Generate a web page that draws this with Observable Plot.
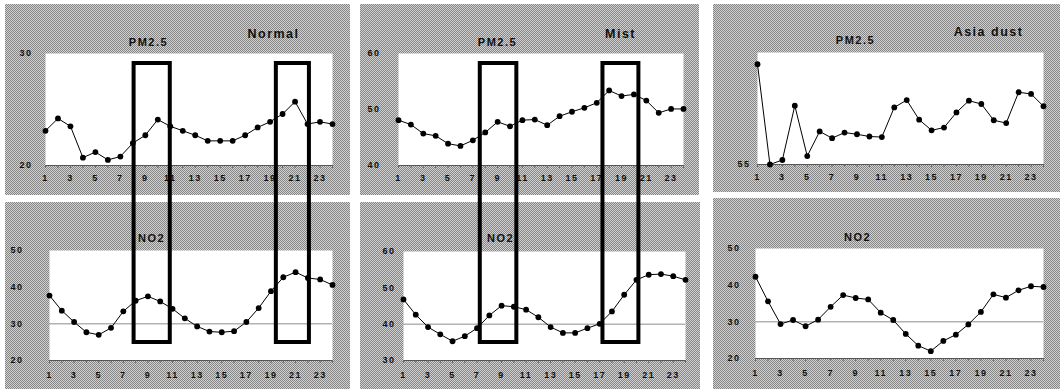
<!DOCTYPE html>
<html>
<head>
<meta charset="utf-8">
<script src="https://cdn.jsdelivr.net/npm/d3@7"></script>
<script src="https://cdn.jsdelivr.net/npm/@observablehq/plot@0.6"></script>
<style>
  body { margin: 0; background: #fff; }
  #root { position: relative; width: 1060px; height: 391px; overflow: hidden; background: #fff; font-family: "Liberation Sans", Arial, sans-serif; }
  .panel { position: absolute; background-color: #aaaaaa;
    background-image: repeating-conic-gradient(#858585 0 25%, #d2d2d2 0 50%);
    background-size: 2px 2px; }
  .panel svg, .overlay svg { display: block; }
  .overlay { position: absolute; pointer-events: none; }
</style>
</head>
<body>
<div id="root"></div>
<script>
// ---- data ----
const hours = [1,2,3,4,5,6,7,8,9,10,11,12,13,14,15,16,17,18,19,20,21,22,23,24];
const oddHours = [1,3,5,7,9,11,13,15,17,19,21,23];

const normalPM25 = [23.1,24.2,23.5,20.7,21.2,20.5,20.8,22.0,22.7,24.1,23.5,23.1,22.7,22.2,22.2,22.2,22.7,23.4,23.9,24.6,25.7,23.7,23.9,23.7];
const normalNO2  = [37.7,33.6,30.5,27.7,27.0,28.9,33.4,36.3,37.5,36.1,34.1,31.5,29.3,27.9,27.7,28.0,30.5,34.3,38.9,42.7,44.1,42.5,42.1,40.6];
const mistPM25   = [48.1,47.3,45.7,45.3,43.9,43.5,44.5,45.9,47.8,47.0,48.1,48.2,47.2,48.8,49.6,50.3,51.2,53.4,52.4,52.7,51.6,49.4,50.1,50.1];
const mistNO2    = [46.8,42.6,39.2,37.2,35.3,36.7,38.9,42.4,45.1,44.8,44.0,41.9,39.2,37.6,37.6,38.9,40.1,43.5,48.1,52.2,53.6,53.8,53.2,52.2];
const dustPM25   = [72.9,55.0,55.8,65.5,56.5,60.9,59.7,60.7,60.4,60.0,59.9,65.2,66.5,63.0,61.1,61.6,64.3,66.4,65.8,62.9,62.4,67.9,67.6,65.4];
const dustNO2    = [42.3,35.6,29.4,30.5,28.8,30.6,34.1,37.3,36.5,36.1,32.5,30.5,26.7,23.5,22.0,24.8,26.5,29.3,32.7,37.5,36.6,38.6,39.7,39.5];

const normalBoxes = [{start: 8.1, end: 11.0}, {start: 19.5, end: 22.15}];
const mistBoxes   = [{start: 7.6, end: 10.55}, {start: 17.5, end: 20.4}];

// ---- layout ----
const panels = [
  {values: normalPM25, yDomain: [20, 30], yTicks: [20, 30], ref: null, title: "PM2.5", tpos: [103, -11], event: "Normal", epos: [228, -20],
   box: {left: 5, top: 4, w: 345, h: 191}, m: [49, 18, 30, 40], yPad: 13, xPad: 9},
  {values: normalNO2, yDomain: [20, 50], yTicks: [20, 30, 40, 50], ref: 30, title: "NO2", tpos: [102, -12],
   box: {left: 5, top: 202, w: 345, h: 187}, m: [48, 18, 29, 44], yPad: 26, xPad: 11},
  {values: mistPM25, yDomain: [40, 60], yTicks: [40, 50, 60], ref: null, title: "PM2.5", tpos: [99, -11], event: "Mist", epos: [222, -20],
   box: {left: 360, top: 4, w: 339, h: 191}, m: [49, 16, 30, 38], yPad: 18, xPad: 9},
  {values: mistNO2, yDomain: [30, 60], yTicks: [30, 40, 50, 60], ref: 40, title: "NO2", tpos: [97, -13],
   box: {left: 360, top: 202, w: 340, h: 187}, m: [49, 15, 29, 43], yPad: 8, xPad: 11},
  {values: dustPM25, yDomain: [55, 75], yTicks: [55], ref: null, title: "PM2.5", tpos: [98, -12], event: "Asia dust", epos: [231, -21],
   box: {left: 713, top: 4, w: 347, h: 188}, m: [48, 17, 28, 44], yPad: 7, xPad: 9},
  {values: dustNO2, yDomain: [20, 50], yTicks: [20, 30, 40, 50], ref: 30, title: "NO2", tpos: [102, -11],
   box: {left: 713, top: 198, w: 347, h: 191}, m: [50, 17, 31, 42], yPad: 15, xPad: 11}
];

const root = document.getElementById("root");
const font = "'Liberation Sans', Arial, sans-serif";

for (const p of panels) {
  const data = hours.map((h, i) => ({hour: h, value: p.values[i]}));
  const marks = [
    Plot.frame({fill: "white"}),
    p.ref != null ? Plot.ruleY([p.ref], {stroke: "#8c8c8c", strokeWidth: 1}) : null,
    Plot.ruleY([p.yDomain[0]], {stroke: "#555", strokeWidth: 1}),
    Plot.axisX({ticks: hours, tickSize: 3, text: null, label: null, stroke: "#666"}),
    Plot.axisX({ticks: oddHours, tickSize: 0, tickPadding: p.xPad, label: null, fontSize: 9, fontWeight: "bold", fill: "#111"}),
    Plot.axisY({ticks: p.yTicks, tickSize: 0, tickPadding: p.yPad, label: null, fontSize: 9, fontWeight: "bold", fill: "#111"}),
    Plot.line(data, {x: "hour", y: "value", stroke: "black", strokeWidth: 1}),
    Plot.dot(data, {x: "hour", y: "value", symbol: "circle", r: 2.9, fill: "black", stroke: "none"}),
    Plot.text([p.title], {frameAnchor: "top-left", dx: p.tpos[0], dy: p.tpos[1], textAnchor: "middle", lineAnchor: "middle",
      fontSize: 11, fill: "#111", fontWeight: "bold"})
  ];
  if (p.event) {
    marks.push(Plot.text([p.event], {frameAnchor: "top-left", dx: p.epos[0], dy: p.epos[1], textAnchor: "middle", lineAnchor: "middle",
      fontSize: 12.5, fill: "#111", fontWeight: "bold", style: "letter-spacing:3px"}));
  }
  const chart = Plot.plot({
    width: p.box.w, height: p.box.h,
    marginTop: p.m[0], marginRight: p.m[1], marginBottom: p.m[2], marginLeft: p.m[3],
    x: {domain: [1, 24], axis: null},
    y: {domain: p.yDomain, axis: null},
    style: {background: "transparent", overflow: "visible", fontFamily: font, letterSpacing: "1.5px"},
    marks
  });
  const div = document.createElement("div");
  div.className = "panel";
  Object.assign(div.style, {left: p.box.left + "px", top: p.box.top + "px", width: p.box.w + "px", height: p.box.h + "px"});
  div.appendChild(chart);
  root.appendChild(div);
}

// ---- highlight rectangles across both rows ----
const overlays = [
  {boxes: normalBoxes, left: 5, w: 345, mL: 40, mR: 18},
  {boxes: mistBoxes, left: 360, w: 339, mL: 38, mR: 16}
];
for (const o of overlays) {
  const chart = Plot.plot({
    width: o.w, height: 391,
    marginTop: 63, marginBottom: 49, marginLeft: o.mL, marginRight: o.mR,
    x: {domain: [1, 24], axis: null},
    style: {background: "transparent", overflow: "visible"},
    marks: [
      Plot.rect(o.boxes, {x1: "start", x2: "end", fill: "none", stroke: "black", strokeWidth: 4})
    ]
  });
  const div = document.createElement("div");
  div.className = "overlay";
  Object.assign(div.style, {left: o.left + "px", top: "0px", width: o.w + "px", height: "391px"});
  div.appendChild(chart);
  root.appendChild(div);
}
</script>
</body>
</html>
